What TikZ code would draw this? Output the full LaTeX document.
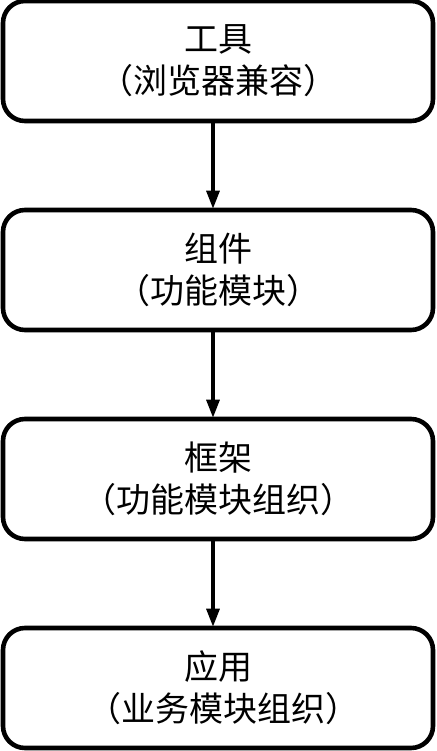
\documentclass[tikz,border=0pt]{standalone}
\usepackage{fontspec}
\newfontfamily\cjk{Noto Sans CJK SC}
\usetikzlibrary{arrows.meta}
\tikzset{
  stagebox/.style={draw=black, line width=4.6pt, rounded corners=22pt,
    minimum width=430pt, minimum height=120pt, inner sep=0pt,
    align=center, font=\cjk\fontsize{34pt}{42pt}\selectfont},
  flowarrow/.style={draw=black, line width=3.2pt,
    -{Triangle[length=18pt,width=13pt]}, shorten >=-1pt}
}
\begin{document}
\begin{tikzpicture}[x=1pt,y=-1pt]
\useasboundingbox (0,0) rectangle (436,751);
\node[stagebox] (tool) at (218,61) {工具\\（浏览器兼容）};
\node[stagebox] (comp) at (218,270) {组件\\（功能模块）};
\node[stagebox] (frame) at (218,479) {框架\\（功能模块组织）};
\node[stagebox] (app) at (218,688) {应用\\\hspace*{10pt}（业务模块组织）};
\draw[flowarrow] (tool.south -| 213,0) -- (comp.north -| 213,0);
\draw[flowarrow] (comp.south -| 213,0) -- (frame.north -| 213,0);
\draw[flowarrow] (frame.south -| 213,0) -- (app.north -| 213,0);
\end{tikzpicture}
\end{document}
